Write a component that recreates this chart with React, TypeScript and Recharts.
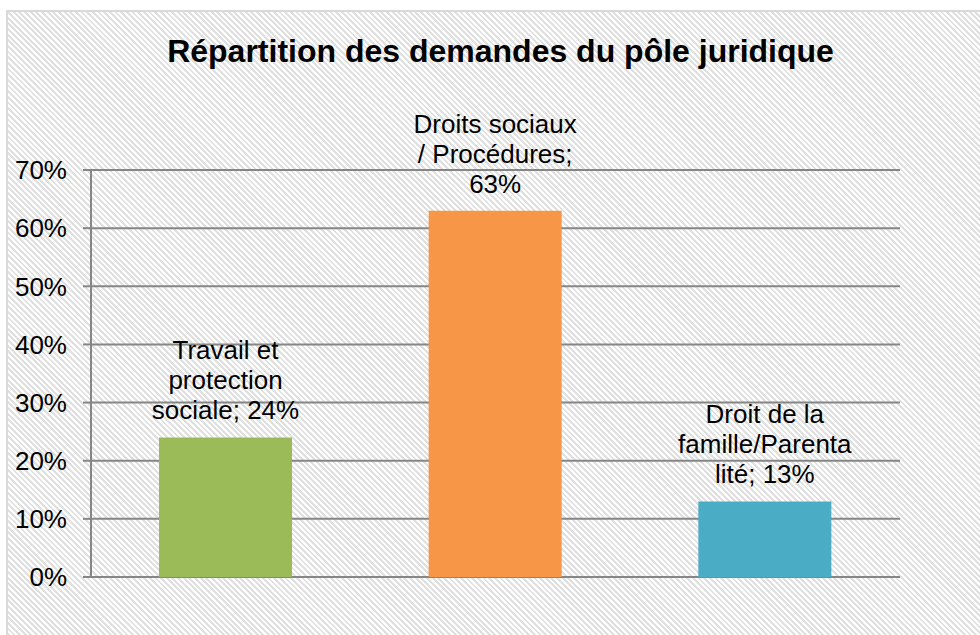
import { Bar, BarChart, CartesianGrid, Cell, LabelList, XAxis, YAxis } from "recharts";

const categories = [
  "Travail et protection sociale",
  "Droits sociaux / Procédures",
  "Droit de la famille/Parentalité",
];
const shares = [0.24, 0.63, 0.13];
const labelLines = [
  ["Travail et", "protection", "sociale; 24%"],
  ["Droits sociaux", "/ Procédures;", "63%"],
  ["Droit de la", "famille/Parenta", "lité; 13%"],
];
const yTicks = [0, 0.1, 0.2, 0.3, 0.4, 0.5, 0.6, 0.7];
const colors = ["#9BBB59", "#F79646", "#4BACC6"];

const TITLE = "Répartition des demandes du pôle juridique";
const FONT = "'Liberation Sans', Arial, sans-serif";
const GRID = "#868686";

const data = categories.map((c, i) => ({ name: c, value: shares[i], idx: i }));

function BarLabel(props: any) {
  const { x, y, width, index } = props;
  const lines = labelLines[index] || [];
  const cx = Number(x) + Number(width) / 2;
  const last = Number(y) - 18;
  return (
    <text textAnchor="middle" fontSize={26} fill="#000" fontFamily={FONT}>
      {lines.map((l, i) => (
        <tspan key={i} x={cx} y={last - (lines.length - 1 - i) * 30}>
          {l}
        </tspan>
      ))}
    </text>
  );
}

export default function App() {
  return (
    <div
      style={{
        position: "absolute",
        left: 0,
        top: 0,
        width: 980,
        height: 635,
        overflow: "hidden",
        background: "#fff",
        fontFamily: FONT,
      }}
    >
      <div
        style={{
          position: "absolute",
          left: 6,
          top: 10,
          width: 1000,
          height: 700,
          border: "2px solid #d9d9d9",
          background:
            "repeating-linear-gradient(45deg, #ffffff 0px, #ffffff 2px, #e0e0e0 2px, #e0e0e0 4px)",
        }}
      />
      <div
        style={{
          position: "absolute",
          left: 0,
          top: 33,
          width: 1001,
          textAlign: "center",
          fontSize: 32,
          fontWeight: "bold",
          color: "#000",
          lineHeight: "36px",
        }}
      >
        {TITLE}
      </div>
      <div style={{ position: "absolute", left: 0, top: 0 }}>
        <BarChart
          width={980}
          height={635}
          data={data}
          margin={{ top: 170, right: 80, bottom: 58, left: 0 }}
          barCategoryGap="25%"
        >
          <CartesianGrid vertical={false} stroke={GRID} strokeWidth={2} />
          <XAxis dataKey="name" hide />
          <YAxis
            width={91}
            domain={[0, 0.7]}
            ticks={yTicks}
            interval={0}
            tickFormatter={(v: number) => `${Math.round(v * 100)}%`}
            tick={{ fontSize: 26, fill: "#000", fontFamily: FONT }}
            tickSize={8}
            tickMargin={16}
            axisLine={{ stroke: GRID, strokeWidth: 2 }}
            tickLine={{ stroke: GRID, strokeWidth: 2 }}
          />
          <Bar dataKey="value" isAnimationActive={false} barSize={133}>
            {data.map((d) => (
              <Cell key={d.idx} fill={colors[d.idx]} />
            ))}
            <LabelList dataKey="value" content={<BarLabel />} />
          </Bar>
        </BarChart>
      </div>
    </div>
  );
}
